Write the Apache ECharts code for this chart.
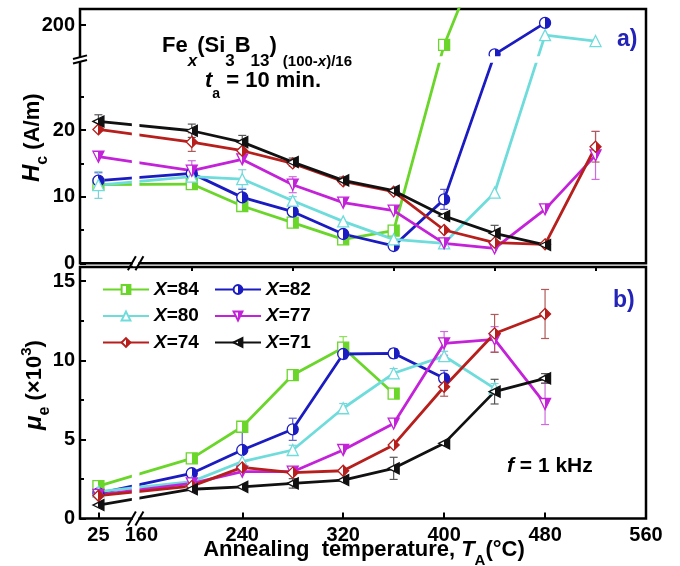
<!DOCTYPE html>
<html><head><meta charset="utf-8">
<script src="https://cdn.jsdelivr.net/npm/echarts@6/dist/echarts.min.js"></script>
<style>html,body{margin:0;padding:0;background:#fff}#c{width:680px;height:566px}</style>
</head><body><div id="c"></div>
<script>
// ---------------- data ----------------
const temps = [25, 200, 240, 280, 320, 360, 400, 440, 480, 520];   // annealing temperature (°C)
const seriesNames = ['X=84', 'X=82', 'X=80', 'X=77', 'X=74', 'X=71'];

// coercivity Hc (A/m)
const hc84 = [11.8, 11.9, 8.6, 6.1, 3.6, 4.9, 143, 500];
const hc82 = [12.4, 13.5, 9.9, 7.75, 4.4, 2.6, 9.6, 116, 206];
const hc80 = [11.75, 13.0, 12.65, 9.4, 6.3, 3.6, 3.0, 10.6, 171, 154];
const hc77 = [16.0, 13.9, 15.6, 11.8, 9.1, 7.9, 3.0, 2.25, 8.1, 16.2];
const hc74 = [20.1, 18.2, 16.9, 15.0, 12.3, 10.75, 5.0, 3.1, 2.85, 17.5];
const hc71 = [21.3, 19.9, 18.2, 15.2, 12.45, 10.9, 7.1, 4.5, 2.75];
// Hc error bars (±)
const hcErr84 = [null, null, null, null, null, null, null, null];
const hcErr82 = [1.2, null, 1.2, null, null, null, 1.5, null, null];
const hcErr80 = [2.0, null, 1.4, 0.6, null, null, null, null, null, null];
const hcErr77 = [null, 1.5, null, 1.2, null, null, null, null, null, 3.6];
const hcErr74 = [null, 1.4, null, null, null, null, null, null, null, 2.3];
const hcErr71 = [1.0, 1.0, 1.0, 0.6, 0.5, null, null, 1.2, null];

// permeability mu_e (x10^3)
const mu84 = [2.05, 3.8, 5.8, 9.07, 10.8, 7.9];
const mu82 = [1.59, 2.86, 4.33, 5.64, 10.4, 10.44, 8.86];
const mu80 = [1.7, 2.33, 3.6, 4.33, 6.97, 9.18, 10.27, 8.23];
const mu77 = [1.49, 2.22, 2.96, 2.96, 4.33, 6.0, 11.07, 11.33, 7.24];
const mu74 = [1.44, 2.05, 3.23, 2.9, 3.02, 4.65, 8.33, 11.7, 12.93];
const mu71 = [0.85, 1.85, 2.0, 2.22, 2.43, 3.17, 4.75, 8.02, 8.86];
// mu_e error bars (±)
const muErr84 = [null, null, null, null, 0.7, 0.3];
const muErr82 = [null, null, 1.2, 0.7, 0.3, 0.3, 0.5];
const muErr80 = [null, null, null, 0.3, 0.3, 0.3, 0.3, 0.3];
const muErr77 = [null, null, null, null, null, null, 0.75, 0.8, 1.3];
const muErr74 = [null, null, null, null, null, null, 0.6, 1.2, 1.55];
const muErr71 = [null, null, null, 0.3, null, 0.7, null, 0.78, 0.3];

// tick labels
const xTickLabels = [25, 160, 240, 320, 400, 480, 560];
const xMajorTicks = [25, 240, 320, 400, 480];
const xMinorTicks = [200, 280, 360, 440, 520];
const hcTickLabels = [0, 10, 20, 200];
const hcMinorTicks = [5, 15, 25];
const muTickLabels = [0, 5, 10, 15];
const muMinorTicks = [2.5, 7.5, 12.5];

// ---------------- broken-axis helpers ----------------
// x: 25 °C is placed just left of the axis break (virtual position)
const X_LOW = 25, X_LOW_POS = 126;
function xv(t) { return t < 100 ? X_LOW_POS + (t - X_LOW) : t; }
// Hc: 0..30 linear, then break, upper part compressed (100 at break, 200 near top)
const HC_BRK = 30.53, HC_UP_K = 0.0525;
function hv(v) { return v <= 40 ? v : HC_BRK + (v - 100) * HC_UP_K; }

const X_MIN = 111.4, X_MAX = 560, HC_VMAX = 38.18, MU_MAX = 15.9;
const BRK_X0 = 152.5, BRK_X1 = 158.5;     // virtual x-range of the x break gap
const BRK_Y0 = 30.1, BRK_Y1 = 31.1;       // virtual Hc-range of the y break gap
// vertical extent of the x-break gap in each panel (only where lines cross it)
const GAP_TOP = [8, 25], GAP_BOT = [0.2, 4];

// ---------------- styles ----------------
const colors = ['#6ad62a', '#1b1bc2', '#6fdcdc', '#c322d8', '#b71f1c', '#111111'];
const errColors = ['#8ee05a', '#5a5ad0', '#7fd0d8', '#cf6ade', '#b05a5a', '#555555'];
const symbols = ['rect', 'circle', 'triangle', 'path://M0,0L10,0L5,10Z', 'diamond', 'path://M0,5L10,0L10,10Z'];
const halfFilled = [true, true, false, true, true, true];
const hcData = [hc84, hc82, hc80, hc77, hc74, hc71];
const hcErrData = [hcErr84, hcErr82, hcErr80, hcErr77, hcErr74, hcErr71];
const muData = [mu84, mu82, mu80, mu77, mu74, mu71];
const muErrData = [muErr84, muErr82, muErr80, muErr77, muErr74, muErr71];

const FF = "'Liberation Sans', Arial, sans-serif";

function fillFor(i) {
  const c = colors[i];
  if (!halfFilled[i]) return '#ffffff';
  return { type: 'linear', x: 0, y: 0, x2: 1, y2: 0, colorStops: [
    { offset: 0, color: '#ffffff' }, { offset: 0.5, color: '#ffffff' },
    { offset: 0.5, color: c }, { offset: 1, color: c }] };
}

function lineSeries(i, vals, xi, yi, tf) {
  return {
    type: 'line', name: seriesNames[i], xAxisIndex: xi, yAxisIndex: yi,
    data: vals.map((v, k) => [xv(temps[k]), tf(v)]),
    symbol: symbols[i], symbolSize: 11, z: 3,
    lineStyle: { color: colors[i], width: 2.8 },
    itemStyle: { color: fillFor(i), borderColor: colors[i], borderWidth: 1.3 },
    emphasis: { disabled: true }, animation: false
  };
}

function errRender(color) {
  return function (params, api) {
    const x = api.value(0);
    const a = api.coord([x, api.value(1)]), b = api.coord([x, api.value(2)]);
    const w = 4, st = { stroke: color, lineWidth: 1.2 };
    return { type: 'group', children: [
      { type: 'line', shape: { x1: a[0], y1: a[1], x2: b[0], y2: b[1] }, style: st },
      { type: 'line', shape: { x1: a[0] - w, y1: a[1], x2: a[0] + w, y2: a[1] }, style: st },
      { type: 'line', shape: { x1: b[0] - w, y1: b[1], x2: b[0] + w, y2: b[1] }, style: st }
    ] };
  };
}

function errSeries(i, vals, errs, xi, yi, tf) {
  const d = [];
  vals.forEach((v, k) => { const e = errs[k]; if (e != null) d.push([xv(temps[k]), tf(v - e), tf(v + e)]); });
  return { type: 'custom', name: 'err' + i, xAxisIndex: xi, yAxisIndex: yi, z: 2, silent: true,
    renderItem: errRender(errColors[i]), data: d, encode: { x: 0, y: [1, 2] }, animation: false };
}

const series = [];
for (let i = 0; i < 6; i++) series.push(lineSeries(i, hcData[i], 0, 0, hv));
for (let i = 0; i < 6; i++) series.push(lineSeries(i, muData[i], 1, 2, v => v));
for (let i = 0; i < 6; i++) series.push(errSeries(i, hcData[i], hcErrData[i], 0, 0, hv));
for (let i = 0; i < 6; i++) series.push(errSeries(i, muData[i], muErrData[i], 1, 2, v => v));

const labelFont = { fontSize: 20, fontWeight: 'bold', fontFamily: FF, color: '#000' };
const xLabelMap = {}; xTickLabels.forEach(t => { xLabelMap[xv(t).toFixed(3)] = String(t); });
const hcLabelMap = {}; hcTickLabels.forEach(t => { hcLabelMap[hv(t).toFixed(3)] = String(t); });

function tickAxis(extra) {
  return Object.assign({ type: 'value', splitLine: { show: false }, axisLine: { show: false, onZero: false } }, extra);
}

const legendRich = {
  i: { fontStyle: 'italic', fontWeight: 'bold', fontSize: 19, fontFamily: FF, color: '#000' },
  b: { fontWeight: 'bold', fontSize: 19, fontFamily: FF, color: '#000' }
};
function legendCfg(names, left) {
  return { orient: 'vertical', left: left, top: 275, itemWidth: 46, itemHeight: 11, itemGap: 7.5,
    data: names, selectedMode: false, formatter: n => '{i|X}{b|' + n.slice(1) + '}',
    textStyle: { rich: legendRich, fontSize: 19 } };
}

const chart = echarts.init(document.getElementById('c'), null, { renderer: 'canvas' });
chart.setOption({
  animation: false,
  backgroundColor: '#fff',
  textStyle: { fontFamily: FF },
  grid: [
    { left: 80, right: 34, top: 9, height: 254.3, show: true, borderColor: '#000', borderWidth: 2.5, backgroundColor: 'transparent' },
    { left: 80, right: 34, top: 267, height: 251.5, show: true, borderColor: '#000', borderWidth: 2.5, backgroundColor: 'transparent' }
  ],
  legend: [legendCfg(['X=84', 'X=80', 'X=74'], 97), legendCfg(['X=82', 'X=77', 'X=71'], 209)],
  xAxis: [
    tickAxis({ gridIndex: 0, min: X_MIN, max: X_MAX, axisTick: { show: false }, axisLabel: { show: false } }),
    tickAxis({ gridIndex: 1, min: X_MIN, max: X_MAX,
      axisTick: { show: true, inside: true, length: 6, lineStyle: { color: '#000', width: 2 }, customValues: xMajorTicks.map(xv) },
      axisLabel: Object.assign({ show: true, margin: 7, showMinLabel: true, showMaxLabel: true, customValues: xTickLabels.map(xv),
        formatter: v => xLabelMap[Number(v).toFixed(3)] || '' }, labelFont) }),
    tickAxis({ gridIndex: 1, min: X_MIN, max: X_MAX, axisLabel: { show: false },
      axisTick: { show: true, inside: true, length: 4, lineStyle: { color: '#000', width: 2 }, customValues: xMinorTicks } })
  ],
  yAxis: [
    tickAxis({ gridIndex: 0, min: 0, max: HC_VMAX, position: 'left', offset: 0,
      axisTick: { show: true, inside: true, length: 6, lineStyle: { color: '#000', width: 2 }, customValues: hcTickLabels.map(hv) },
      axisLabel: Object.assign({ show: true, margin: 5, showMinLabel: true, showMaxLabel: true, customValues: hcTickLabels.map(hv),
        formatter: v => hcLabelMap[Number(v).toFixed(3)] || '' }, labelFont) }),
    tickAxis({ gridIndex: 0, min: 0, max: HC_VMAX, position: 'left', offset: 0, axisLabel: { show: false },
      axisTick: { show: true, inside: true, length: 4, lineStyle: { color: '#000', width: 2 }, customValues: hcMinorTicks } }),
    tickAxis({ gridIndex: 1, min: 0, max: MU_MAX, position: 'left', offset: 0,
      axisTick: { show: true, inside: true, length: 6, lineStyle: { color: '#000', width: 2 }, customValues: muTickLabels },
      axisLabel: Object.assign({ show: true, margin: 5, showMinLabel: true, customValues: muTickLabels }, labelFont) }),
    tickAxis({ gridIndex: 1, min: 0, max: MU_MAX, position: 'left', offset: 0, axisLabel: { show: false },
      axisTick: { show: true, inside: true, length: 4, lineStyle: { color: '#000', width: 2 }, customValues: muMinorTicks } })
  ],
  series: series
});

// ---------------- annotations / axis breaks ----------------
const mc = document.createElement('canvas').getContext('2d');
function fontStr(s) { return (s.it ? 'italic ' : '') + 'bold ' + s.sz + 'px ' + FF; }
function richText(segs, x, y, color, opt) {
  opt = opt || {};
  let cx = 0; const kids = [];
  segs.forEach(s => {
    const f = fontStr(s); mc.font = f;
    const w = mc.measureText(s.t).width;
    cx += (s.pre || 0);
    kids.push({ type: 'text', x: cx, y: (s.dy || 0) - 0.35 * s.sz, z: 100,
      style: { text: s.t, font: f, fill: s.color || color, align: 'left', verticalAlign: 'middle', textAlign: 'left', textVerticalAlign: 'middle' } });
    cx += w;
  });
  if (opt.center) kids.forEach(k => { k.x -= cx / 2; });
  return { type: 'group', x: x, y: y, rotation: opt.rot || 0, z: 100, children: kids };
}

const conv = (si, p) => chart.convertToPixel({ seriesIndex: si }, p);
const g = [];
function white(x, y, w, h) { g.push({ type: 'rect', z: 90, shape: { x, y, width: w, height: h }, style: { fill: '#fff' }, silent: true }); }
function stroke(x1, y1, x2, y2) { g.push({ type: 'line', z: 95, shape: { x1, y1, x2, y2 }, style: { stroke: '#000', lineWidth: 2 }, silent: true }); }

[[0, GAP_TOP], [6, GAP_BOT]].forEach(([si, gap]) => {
  const br = conv(si, [X_MAX, 0]);
  const xa = conv(si, [BRK_X0, 0])[0], xb = conv(si, [BRK_X1, 0])[0];
  const gy0 = conv(si, [BRK_X0, gap[1]])[1], gy1 = conv(si, [BRK_X0, gap[0]])[1];
  white(xa, gy0, xb - xa, gy1 - gy0);
  white(xa + 1, br[1] - 3, xb - xa - 2, 6);
  stroke(xa - 4, br[1] + 7, xa + 4, br[1] - 7);
  stroke(xb - 4, br[1] + 7, xb + 4, br[1] - 7);
});
{
  const tl = conv(0, [X_MIN, HC_VMAX]), br = conv(0, [X_MAX, 0]);
  const y0 = conv(0, [X_MIN, BRK_Y0])[1], y1 = conv(0, [X_MIN, BRK_Y1])[1];
  const yc = (y0 + y1) / 2, ax = tl[0];
  white(ax + 2, y1, br[0] - ax - 4, y0 - y1);
  white(ax - 3, yc - 2, 6, 4);
  stroke(ax - 7, yc - 2.3 + 1.8, ax + 7, yc - 2.3 - 1.8);
  stroke(ax - 7, yc + 2.3 + 1.8, ax + 7, yc + 2.3 - 1.8);
}

g.push(richText([{ t: 'Fe', sz: 22 }, { t: 'x', sz: 17, it: true, dy: 14 }, { t: '(Si', sz: 22 }, { t: '3', sz: 17, dy: 14 },
  { t: 'B', sz: 22 }, { t: '13', sz: 17, dy: 14 }, { t: ')', sz: 22 }, { t: '(100-', sz: 15, dy: 14, pre: 6 },
  { t: 'x', sz: 15, it: true, dy: 14 }, { t: ')/16', sz: 15, dy: 14 }], 162, 53.3, '#000'));
g.push(richText([{ t: 't', sz: 22, it: true }, { t: 'a', sz: 14, dy: 11 }, { t: ' = 10 min.', sz: 22 }], 205, 88.3, '#000'));
g.push(richText([{ t: 'a)', sz: 23 }], 617, 48, '#2323b8'));
g.push(richText([{ t: 'b)', sz: 23 }], 613, 309, '#2323b8'));
g.push(richText([{ t: 'f', sz: 21, it: true }, { t: ' = 1 kHz', sz: 21 }], 507, 474, '#000'));
g.push(richText([{ t: 'Annealing  temperature, ', sz: 22 }, { t: 'T', sz: 22, it: true }, { t: 'A', sz: 15, dy: 8 }, { t: '(°C)', sz: 22 }],
  364, 558, '#000', { center: true }));
g.push(richText([{ t: 'H', sz: 24, it: true }, { t: 'c', sz: 16, dy: 7 }, { t: ' (A/m)', sz: 22 }], 41, 182, '#000', { rot: Math.PI / 2 }));
g.push(richText([{ t: 'μ', sz: 24, it: true }, { t: 'e', sz: 16, dy: 7 }, { t: ' (×10', sz: 22 }, { t: '3', sz: 15, dy: -11 }, { t: ')', sz: 22 }],
  43, 430, '#000', { rot: Math.PI / 2 }));

chart.setOption({ graphic: g });
</script>
</body></html>
